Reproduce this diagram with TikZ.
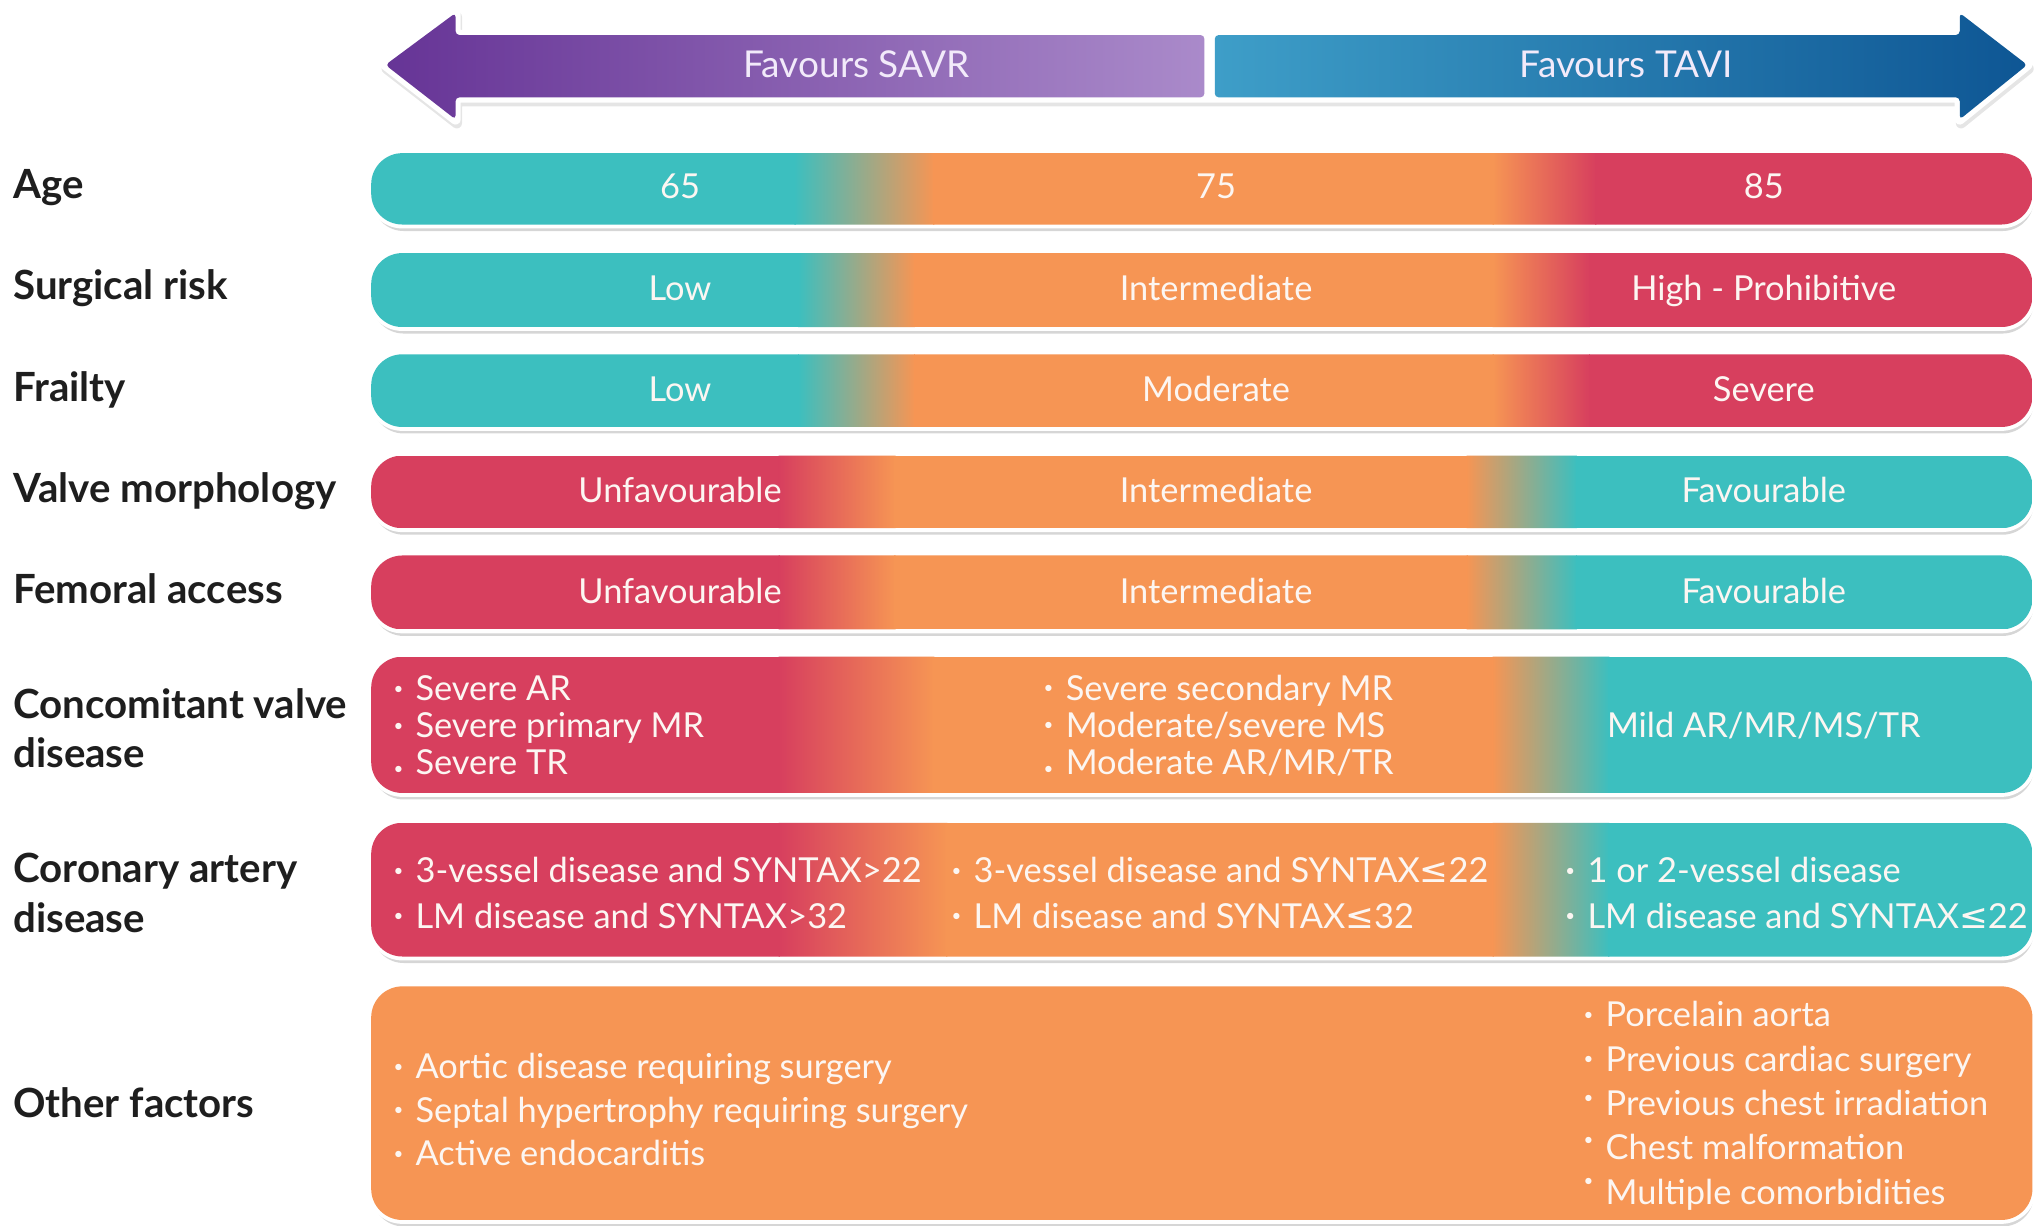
\documentclass[tikz,border=0pt]{standalone}
\usepackage{fontspec}
\setmainfont{Lato}
\newfontfamily\symfont{DejaVu Sans}
\definecolor{cteal}{RGB}{60,191,191}
\definecolor{corange}{RGB}{246,149,84}
\definecolor{cred}{RGB}{215,63,94}
\definecolor{pdark}{RGB}{102,52,150}
\definecolor{plight}{RGB}{170,138,202}
\definecolor{blight}{RGB}{62,158,200}
\definecolor{bdark}{RGB}{14,86,148}
\definecolor{labelc}{RGB}{30,30,30}
\definecolor{txtc}{RGB}{252,246,242}
\definecolor{arrtxt}{RGB}{242,234,250}
\newcommand\bux[1]{\makebox[17pt][l]{\raisebox{#1}{\fontsize{13}{13}\selectfont •}}}
\newcommand\bu{\bux{5pt}}
\newcommand\lesym{{\symfont ≤}}
\newcommand\barback[2]{%
  \fill[black!16, rounded corners=24] (287,#1+5) rectangle (1567,#2+5);
  \draw[white, line width=6, rounded corners=24] (286,#1) rectangle (1566,#2);}
\newcommand\bands[9]{%
  \begin{scope}
  \clip[rounded corners=24] (286,#1) rectangle (1566,#2);
  \fill[#3] (286,#1) rectangle (#6+1,#2);
  \shade[left color=#3,right color=#4] (#6,#1) rectangle (#7,#2);
  \fill[#4] (#7-1,#1) rectangle (#8+1,#2);
  \shade[left color=#4,right color=#5] (#8,#1) rectangle (#9,#2);
  \fill[#5] (#9-1,#1) rectangle (1566,#2);
  \end{scope}}
\tikzset{
  lab/.style={anchor=west, text=labelc, inner sep=0pt, align=left,
    font=\fontsize{31}{38}\selectfont\bfseries},
  one/.style={text height=20pt, text depth=0pt},
  btxt/.style={text=txtc, inner sep=0pt, font=\fontsize{26.5}{30}\selectfont},
  bone/.style={btxt, text height=18.5pt, text depth=0pt},
  blist/.style={btxt, anchor=west, align=left},
  atxt/.style={text=arrtxt, inner sep=0pt, text height=20pt, text depth=0pt,
    font=\fontsize{28.5}{30}\selectfont},
}
\begin{document}
\begin{tikzpicture}[x=1pt,y=-1pt]
\useasboundingbox (0,0) rectangle (1568,944);
% ---------- arrow ----------
\fill[black!10, draw=black!10, line width=8, line join=round, shift={(1,3)}]
  (297,50) -- (351,10) -- (351,27) -- (1510,27) -- (1510,10) -- (1562,50)
  -- (1510,92) -- (1510,75) -- (351,75) -- (351,92) -- cycle;
\fill[white, draw=white, line width=8, line join=round]
  (297,50) -- (351,10) -- (351,27) -- (1510,27) -- (1510,10) -- (1562,50)
  -- (1510,92) -- (1510,75) -- (351,75) -- (351,92) -- cycle;
\shade[left color=pdark, right color=plight, rounded corners=3]
  (297,50) -- (351,10) -- (351,27) -- (928,27) -- (928,75) -- (351,75) -- (351,92) -- cycle;
\shade[left color=blight, right color=bdark, rounded corners=3]
  (936,27) -- (1510,27) -- (1510,10) -- (1562,50) -- (1510,92) -- (1510,75) -- (936,75) -- cycle;
\node[atxt] (savr) at (660,50) {Favours SAVR};
\node[atxt] (tavi) at (1253,50) {Favours TAVI};
% ---------- bars ----------
\barback{118}{173}
\bands{118}{173}{cteal}{corange}{cred}{612}{720}{1150}{1230}
\barback{195}{252}
\bands{195}{252}{cteal}{corange}{cred}{615}{705}{1150}{1225}
\barback{273}{329}
\bands{273}{329}{cteal}{corange}{cred}{615}{705}{1150}{1225}
\barback{351}{407}
\bands{351}{407}{cred}{corange}{cteal}{600}{690}{1130}{1215}
\barback{428}{485}
\bands{428}{485}{cred}{corange}{cteal}{600}{690}{1130}{1215}
\barback{506}{611}
\bands{506}{611}{cred}{corange}{cteal}{600}{720}{1150}{1240}
\barback{634}{737}
\bands{634}{737}{cred}{corange}{cteal}{600}{730}{1150}{1240}
\barback{760}{940}
\fill[corange, rounded corners=24] (286,760) rectangle (1566,940);
% ---------- row labels ----------
\node[lab, one] (lage) at (10,143) {Age};
\node[lab, one] (lsurg) at (10,221) {Surgical risk};
\node[lab, one] (lfrail) at (10,299) {Frailty};
\node[lab, one] (lvalve) at (10,377) {Valve morphology};
\node[lab, one] (lfem) at (10,455) {Femoral access};
\node[lab] (lconc) at (10,561) {Concomitant valve\\disease};
\node[lab] (lcor) at (10,688) {Coronary artery\\disease};
\node[lab, one] (loth) at (10,851) {Other factors};
% ---------- bar texts ----------
\node[bone] (a1) at (524,144) {65};
\node[bone] (a2) at (937,144) {75};
\node[bone] (a3) at (1359,144) {85};
\node[bone] (s1) at (524,222) {Low};
\node[bone] (s2) at (937,222) {Intermediate};
\node[bone] (s3) at (1359,222) {High - Prohibitive};
\node[bone] (f1) at (524,300) {Low};
\node[bone] (f2) at (937,300) {Moderate};
\node[bone] (f3) at (1359,300) {Severe};
\node[bone] (v1) at (524,378) {Unfavourable};
\node[bone] (v2) at (937,378) {Intermediate};
\node[bone] (v3) at (1359,378) {Favourable};
\node[bone] (m1) at (524,456) {Unfavourable};
\node[bone] (m2) at (937,456) {Intermediate};
\node[bone] (m3) at (1359,456) {Favourable};
\node[blist, font=\fontsize{26.5}{28.5}\selectfont] (c1) at (303,559)
  {\bu Severe AR\\\bu Severe primary MR\\\bux{0pt}Severe TR};
\node[blist, font=\fontsize{26.5}{28.5}\selectfont] (c2) at (804,559)
  {\bu Severe secondary MR\\\bu Moderate/severe MS\\\bux{0pt}Moderate AR/MR/TR};
\node[bone] (c3) at (1359,559) {Mild AR/MR/MS/TR};
\node[blist, font=\fontsize{26.5}{35}\selectfont] (k1) at (303,688)
  {\bu 3-vessel disease and SYNTAX>22\\\bu LM disease and SYNTAX>32};
\node[blist, font=\fontsize{26.5}{35}\selectfont] (k2) at (733,688)
  {\bu 3-vessel disease and SYNTAX\lesym 22\\\bu LM disease and SYNTAX\lesym 32};
\node[blist, font=\fontsize{26.5}{35}\selectfont] (k3) at (1206,688)
  {\bu 1 or 2-vessel disease\\\bu LM disease and SYNTAX\lesym 22};
\node[blist, font=\fontsize{26.5}{33.5}\selectfont] (o1) at (303,855)
  {\bu Aortic disease requiring surgery\\\bu Septal hypertrophy requiring surgery\\\bu Active endocarditis};
\node[blist, font=\fontsize{26.5}{34.2}\selectfont] (o2) at (1220,852)
  {\bu Porcelain aorta\\\bu Previous cardiac surgery\\\bux{9pt}Previous chest irradiation\\\bux{11pt}Chest malformation\\\bux{14pt}Multiple comorbidities};
\end{tikzpicture}
\end{document}
